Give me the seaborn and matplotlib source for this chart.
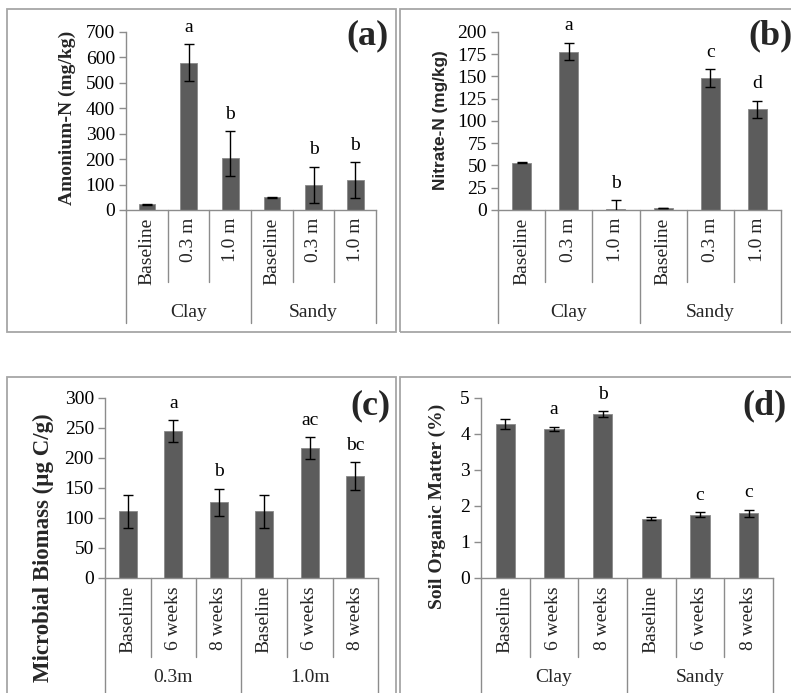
import matplotlib
matplotlib.use("Agg")
import matplotlib.pyplot as plt
import seaborn as sns
import pandas as pd
import numpy as np
from matplotlib.patches import Rectangle
from matplotlib.lines import Line2D

sns.set_theme(style="white")
plt.rcParams['font.family'] = ['Liberation Serif', 'DejaVu Serif']

# ---------------- data ----------------
groups_ab = ["Clay", "Sandy"]
cats_ab = ["Baseline", "0.3 m", "1.0 m"]

amonium = [22, 580, 203, 50, 100, 118]
amonium_err_low = [2, 72, 70, 2, 71, 71]
amonium_err_high = [2, 72, 108, 2, 71, 71]
amonium_letters = ["", "a", "b", "", "b", "b"]

nitrate = [53, 178, 1, 2.5, 148, 113]
nitrate_err = [0.5, 10, 10, 0.3, 10, 10]
nitrate_letters = ["", "a", "b", "", "c", "d"]

groups_c = ["0.3m", "1.0m"]
cats_cd = ["Baseline", "6 weeks", "8 weeks"]
biomass = [111, 245, 126, 111, 217, 170]
biomass_err = [27, 18, 23, 27, 18, 23]
biomass_letters = ["", "a", "b", "", "ac", "bc"]

groups_d = ["Clay", "Sandy"]
som = [4.28, 4.14, 4.55, 1.65, 1.76, 1.80]
som_err = [0.14, 0.06, 0.08, 0.04, 0.06, 0.10]
som_letters = ["", "a", "b", "", "c", "c"]

W, H = 791, 693
fig = plt.figure(figsize=(W / 100, H / 100), dpi=100)
fig.patch.set_facecolor("white")

BAR = "#5c5c5c"
AXC = "#8c8c8c"


def fx(px):
    return px / W


def fy(py):
    return 1 - py / H


def panel(box, axrect, groups, cats, vals, err_lo, err_hi, letters, ymax, ystep,
          ylabel, ylab_pos, ylab_font, ylab_size, tag, tag_pos,
          cat_top, inner_bot, outer_bot, grp_y):
    # border box
    x0, y0, x1, y1 = box
    fig.patches.append(Rectangle((fx(x0), fy(y1)), fx(x1 - x0), (y1 - y0) / H,
                                 transform=fig.transFigure, fill=False,
                                 edgecolor="#a6a6a6", linewidth=1.3, zorder=0))
    ax0, ay0, ax1, ay1 = axrect
    ax = fig.add_axes([fx(ax0), fy(ay1), fx(ax1 - ax0), (ay1 - ay0) / H])
    keys = [f"{g}|{c}" for g in groups for c in cats]
    df = pd.DataFrame({"key": keys, "value": vals})
    sns.barplot(data=df, x="key", y="value", order=keys, color=BAR,
                saturation=1, width=0.4, errorbar=None, ax=ax,
                edgecolor="#8a8a8a", linewidth=0.6)
    xs = np.arange(len(keys))
    ax.errorbar(xs, vals, yerr=[err_lo, err_hi], fmt="none", ecolor="black",
                elinewidth=1.0, capsize=3.5, capthick=1.0, zorder=5)
    for x, v, e, lt in zip(xs, vals, err_hi, letters):
        if lt:
            ax.annotate(lt, (x, v + e), xytext=(0, 6), textcoords="offset points",
                        ha="center", va="bottom", fontsize=14, color="black")
    ax.set_xlim(-0.5, len(keys) - 0.5)
    ax.set_ylim(0, ymax)
    ticks = np.arange(0, ymax + ystep / 2, ystep)
    ax.set_yticks(ticks)
    ax.set_yticklabels([f"{int(t)}" for t in ticks], fontsize=14)
    ax.set_xticks([])
    ax.set_xlabel("")
    ax.set_ylabel("")
    ax.tick_params(axis="y", direction="out", length=5, width=1, color=AXC,
                   pad=3, labelcolor="black", left=True)
    for s in ["top", "right"]:
        ax.spines[s].set_visible(False)
    for s in ["left", "bottom"]:
        ax.spines[s].set_color(AXC)
        ax.spines[s].set_linewidth(1.0)
    ax.set_facecolor("none")
    ax.grid(False)

    # multi-level category axis
    n = len(keys)
    step = (ax1 - ax0) / n
    for i in range(n + 1):
        xp = ax0 + i * step
        bot = outer_bot if i % 3 == 0 else inner_bot
        fig.lines.append(Line2D([fx(xp), fx(xp)], [fy(ay1), fy(bot)],
                                transform=fig.transFigure, color=AXC, lw=1.0))
    for i, k in enumerate(keys):
        c = k.split("|")[1]
        fig.text(fx(ax0 + (i + 0.5) * step), fy(cat_top), c, rotation=90,
                 ha="center", va="top", fontsize=14)
    for gi, g in enumerate(groups):
        fig.text(fx(ax0 + (gi * 3 + 1.5) * step), fy(grp_y), g, ha="center",
                 va="center", fontsize=14)
    fig.text(fx(ylab_pos[0]), fy(ylab_pos[1]), ylabel, rotation=90,
             ha="center", va="center", fontsize=ylab_size, fontweight="bold",
             family=ylab_font)
    fig.text(fx(tag_pos[0]), fy(tag_pos[1]), tag, ha="center", va="center",
             fontsize=26, fontweight="bold")
    return ax


panel((7, 9, 396, 332), (126, 32, 376, 210), groups_ab, cats_ab, amonium,
      amonium_err_low, amonium_err_high, amonium_letters, 700, 100,
      "Amonium-N (mg/kg)", (67, 118), ["Liberation Serif"], 14,
      "(a)", (367, 36), 218, 282, 323, 312)

panel((400, 9, 800, 332), (498, 32, 781, 210), groups_ab, cats_ab, nitrate,
      nitrate_err, nitrate_err, nitrate_letters, 200, 25,
      "Nitrate-N (mg/kg)", (440, 120), ["Liberation Sans"], 12.4,
      "(b)", (770, 36), 218, 282, 323, 312)

panel((7, 377, 396, 710), (105, 398, 378, 578), groups_c, cats_cd, biomass,
      biomass_err, biomass_err, biomass_letters, 300, 50,
      "Microbial Biomass (µg C/g)", (43, 548), ["Liberation Serif"], 16.5,
      "(c)", (370, 406), 586, 657, 710, 678)

panel((400, 377, 800, 710), (481, 398, 773, 578), groups_d, cats_cd, som,
      som_err, som_err, som_letters, 5, 1,
      "Soil Organic Matter (%)", (437, 506), ["Liberation Serif"], 14,
      "(d)", (765, 406), 586, 657, 710, 678)

fig.savefig("out.png", dpi=100)
